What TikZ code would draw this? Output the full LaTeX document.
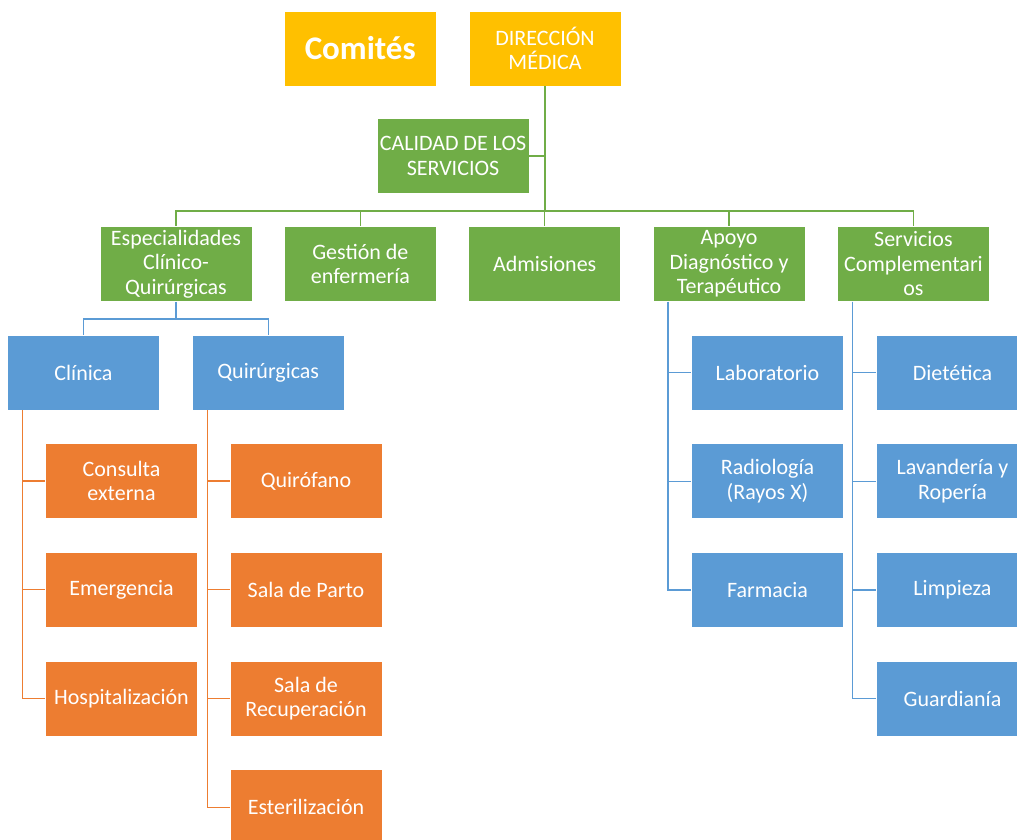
\documentclass[tikz,border=0pt]{standalone}
\usepackage{fontspec}
\setmainfont{Carlito}
\usetikzlibrary{
  positioning, % for relative positioning of the boxes
}
\definecolor{gold}{HTML}{FFC000}
\definecolor{leaf}{HTML}{70AD47}
\definecolor{sky}{HTML}{5B9BD5}
\definecolor{rust}{HTML}{ED7D31}
\tikzset{
  unit/.style={ % style for each box of the chart
    rectangle,draw=white,line width=0.75pt, % thin light outline
    inner sep=0pt, % no padding, the size is fixed below
    minimum width=152pt,minimum height=75pt, % every box the same size
    text=white,align=center, % white centred text
    font=\fontsize{22}{24.5}\selectfont,
  },
  head/.style={unit,fill=gold}, % top of the chart
  area/.style={unit,fill=leaf}, % second level
  dept/.style={unit,fill=sky}, % third level
  serv/.style={unit,fill=rust}, % fourth level
  gline/.style={draw=leaf,line width=1.3pt}, % green connections
  bline/.style={draw=sky,line width=1.3pt}, % blue connections
  oline/.style={draw=rust,line width=1.3pt}, % orange connections
}
\begin{document}
\begin{tikzpicture}[x=1pt,y=-1pt,node distance=33pt and 31.6pt]
	\useasboundingbox (0,0) rectangle (1017,840);
	
	\node[head] (dm) at (545,48.5) {DIRECCIÓN\\MÉDICA};
	
	\node[head,font=\fontsize{33}{36}\bfseries] (com) [left=32pt of dm] {Comités};
	
	\node[area] (cal) at (453,156) {CALIDAD DE LOS\\SERVICIOS};
	
	% second level
	\node[area] (esp) at (176,264) {Especialidades\\Clínico-\\Quirúrgicas};
	\node[area] (gest) [right=of esp] {Gestión de\\enfermería};
	\node[area] (adm) [right=of gest] {Admisiones};
	\node[area] (apo) [right=of adm] {Apoyo\\Diagnóstico y\\Terapéutico};
	\node[area] (scom) [right=of apo] {Servicios\\Complementari\\os};
	
	% third level
	\node[dept] (cli) at (83.5,372.5) {Clínica};
	\node[dept] (quir) [right=32pt of cli] {Quirúrgicas};
	\node[dept] (lab) at (767.5,372.5) {Laboratorio};
	\node[dept] (rad) [below=of lab] {Radiología\\(Rayos X)};
	\node[dept] (farm) [below=of rad] {Farmacia};
	\node[dept] (diet) at (952.5,372.5) {Dietética};
	\node[dept] (lav) [below=of diet] {Lavandería y\\Ropería};
	\node[dept] (limp) [below=of lav] {Limpieza};
	\node[dept] (guar) [below=of limp] {Guardianía};
	
	% fourth level
	\node[serv] (cons) at (121.5,481) {Consulta\\externa};
	\node[serv] (emer) [below=of cons] {Emergencia};
	\node[serv] (hosp) [below=of emer] {Hospitalización};
	\node[serv] (qfan) at (306,481) {Quirófano};
	\node[serv] (parto) [below=of qfan] {Sala de Parto};
	\node[serv] (recu) [below=of parto] {Sala de\\Recuperación};
	\node[serv] (este) [below=of recu] {Esterilización};
	
	% connections
	\coordinate (bar) at (545,211);
	\draw[gline] (dm.south) -- (bar);
	\draw[gline] (cal.east) -- (cal.east -| dm.south);
	\foreach \n in {esp,gest,adm,apo,scom}
		\draw[gline] (bar) -| (\n.north);
	
	\foreach \n in {cli,quir}
		\draw[bline] (esp.south) -- ++(0,17) -| (\n.north);
	
	\coordinate (apotrunk) at ([xshift=-61pt]apo.south);
	\coordinate (scomtrunk) at ([xshift=-61pt]scom.south);
	\coordinate (clitrunk) at ([xshift=-61pt]cli.south);
	\coordinate (quirtrunk) at ([xshift=-61pt]quir.south);
	\foreach \n in {lab,rad,farm}
		\draw[bline] (apotrunk) |- (\n.west);
	\foreach \n in {diet,lav,limp,guar}
		\draw[bline] (scomtrunk) |- (\n.west);
	\foreach \n in {cons,emer,hosp}
		\draw[oline] (clitrunk) |- (\n.west);
	\foreach \n in {qfan,parto,recu,este}
		\draw[oline] (quirtrunk) |- (\n.west);
\end{tikzpicture}
\end{document}
